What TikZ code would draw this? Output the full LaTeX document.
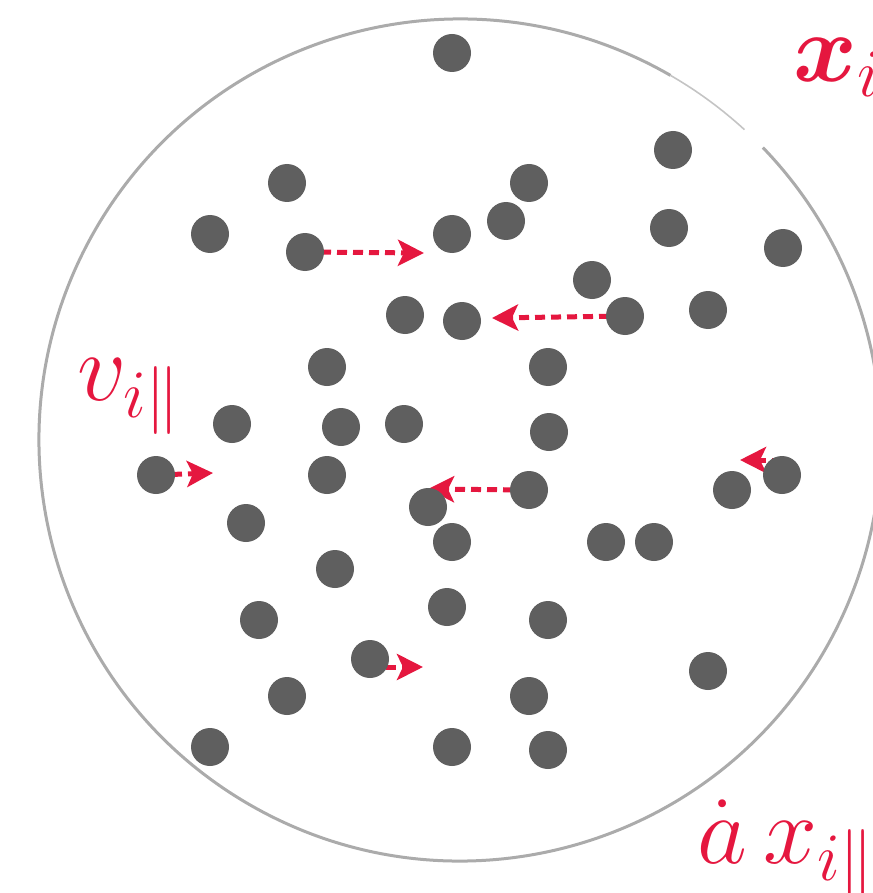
\RequirePackage{fix-cm}
\documentclass[tikz,border=0pt]{standalone}
\usepackage{amsmath}
\usetikzlibrary{arrows.meta}
\definecolor{dotgray}{HTML}{5F5F5F}
\definecolor{accent}{HTML}{E5173F}
\definecolor{ring}{HTML}{ABABAB}
\pgfdeclarelayer{bg}
\pgfsetlayers{bg,main}
\begin{document}
\begin{tikzpicture}[x=1pt,y=-1pt,
  dot/.style={circle,fill=dotgray,minimum size=38pt,inner sep=0pt},
  vel/.style={accent,line width=5pt,dash pattern=on 10pt off 6pt,
    -{Stealth[length=26pt,width=26pt,inset=6pt]}},
  lbl/.style={accent,inner sep=0pt,anchor=base west,font=\fontsize{97}{110}\selectfont}]
\useasboundingbox (0,0) rectangle (872,893);
\coordinate (c) at (460,440);
\draw[ring,line width=3pt] (c) ++(-60:421) arc[start angle=-60,end angle=-404,radius=421];
\draw[ring!70,line width=1.6pt] (c) ++(-47.5:421) arc[start angle=-47.5,end angle=-60,radius=421];

\foreach \n/\x/\y in {1/452/53, 2/673/150, 3/287/183, 4/529/183, 5/210/234,
  6/452/234, 7/506/221, 8/669/228, 9/783/248, 10/305/252, 11/592/280,
  12/405/315, 13/462/321, 14/625/316, 15/708/310, 16/327/367, 17/548/367,
  18/232/424, 19/341/427, 20/404/424, 21/549/432, 22/156/475, 23/327/475,
  24/529/490, 25/428/507, 26/732/490, 27/782/475, 28/246/523, 29/452/542,
  30/606/542, 31/654/542, 32/335/569, 33/259/620, 34/447/607, 35/548/620,
  36/370/659, 37/708/671, 38/287/696, 39/529/696, 40/210/747, 41/452/747,
  42/548/750}
  \node[dot] (d\n) at (\x,\y) {};

\coordinate (t1) at (424,253);
\coordinate (t2) at (492,318);
\coordinate (t3) at (428,489);
\coordinate (t4) at (213,473);
\coordinate (t5) at (740,460);
\coordinate (t6) at (423,667);

\begin{pgfonlayer}{bg}
\draw[vel] (d10.center) -- (t1);
\draw[vel] (d14.center) -- (t2);
\draw[vel] (d24.center) -- (t3);
\draw[vel] (d22.center) -- (t4);
\draw[vel] ([yshift=15pt]d27.center) -- (t5);
\draw[vel] ([yshift=-8pt]d36.center) -- (t6);
\end{pgfonlayer}

\node[lbl] (xl) at (793,82) {$\boldsymbol{x}_i$};
\node[lbl] (vl) at (77,400) {$v_{i\|}$};
\node[lbl] (al) at (697,863) {$\dot{a}\,x_{i\|}$};
\end{tikzpicture}
\end{document}
